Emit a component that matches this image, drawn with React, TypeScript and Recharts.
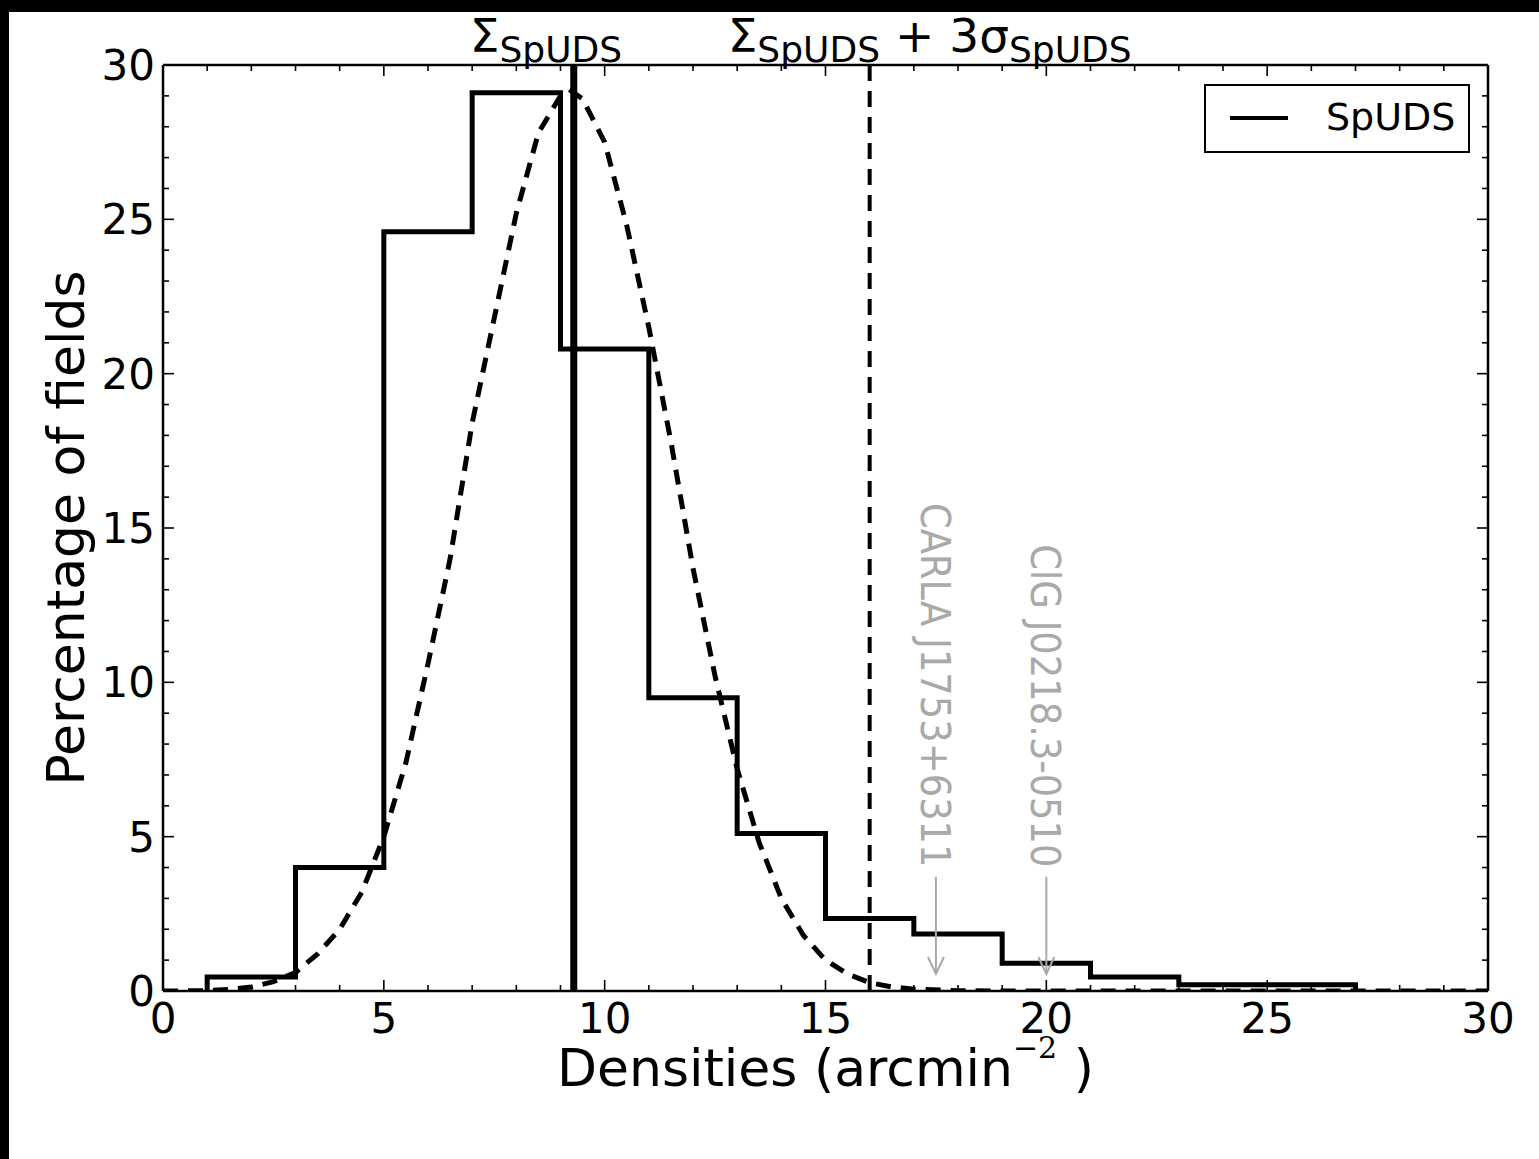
import React from 'react';
import { ComposedChart, Line, XAxis, YAxis, ReferenceLine, ReferenceDot, Legend } from 'recharts';

// histogram of field densities (bins of 2 arcmin^-2)
const binEdges = [1, 3, 5, 7, 9, 11, 13, 15, 17, 19, 21, 23, 25, 27];
const binPercent = [0.45, 4.0, 24.6, 29.1, 20.8, 9.5, 5.1, 2.35, 1.85, 0.9, 0.45, 0.2, 0.2];

// gaussian fit
const fitX = [0, 1, 1.5, 2, 2.5, 3, 3.5, 4, 4.5, 5, 5.5, 6, 6.5, 7, 7.5, 8, 8.5, 9, 9.2, 9.5, 10, 10.5, 11, 11.5, 12, 12.5, 13, 13.5, 14, 14.5, 15, 15.5, 16, 16.5, 17, 18, 19, 20, 22, 25, 30];
const fitY = [0, 0.01, 0.05, 0.13, 0.3, 0.6, 1.2, 2.0, 3.2, 5.0, 7.4, 10.6, 14.0, 18.4, 21.8, 25.2, 27.8, 29.0, 29.2, 28.9, 27.5, 24.8, 21.5, 17.8, 13.7, 10.2, 7.2, 4.8, 3.0, 1.8, 1.0, 0.55, 0.27, 0.13, 0.06, 0.01, 0, 0, 0, 0, 0];

const meanDensity = 9.3;
const threeSigma = 16;

const xTicks = Array.from({ length: 31 }, (_, i) => i);
const yTicks = Array.from({ length: 31 }, (_, i) => i);

const annotations = [
  { name: 'CARLA J1753+6311', x: 17.5, textY: 4.0, tailY: 3.7, tipY: 0.55 },
  { name: 'ClG J0218.3-0510', x: 20, textY: 4.0, tailY: 3.7, tipY: 0.55 },
];

const histData = [
  { x: binEdges[0], y: 0 },
  ...binPercent.map((v, i) => ({ x: binEdges[i], y: v })),
  { x: binEdges[binEdges.length - 1], y: 0 },
];
const fitData = fitX.map((x, i) => ({ x, y: fitY[i] }));

const FONT = "'DejaVu Sans', sans-serif";
const GREY = '#a9a9a9';

const BottomTick = (p: any) => {
  const v = p.payload.value;
  const major = v % 5 === 0;
  return (
    <g>
      <line x1={p.x} y1={p.y} x2={p.x} y2={p.y - (major ? 11 : 6)} stroke="#000" strokeWidth={1.6} />
      {major && (
        <text x={p.x} y={p.y + 42} textAnchor="middle" fontSize={42} fontFamily={FONT} fill="#000">{v}</text>
      )}
    </g>
  );
};

const TopTick = (p: any) => {
  const major = p.payload.value % 5 === 0;
  return <line x1={p.x} y1={p.y} x2={p.x} y2={p.y + (major ? 11 : 6)} stroke="#000" strokeWidth={1.6} />;
};

const LeftTick = (p: any) => {
  const v = p.payload.value;
  const major = v % 5 === 0;
  return (
    <g>
      <line x1={p.x} y1={p.y} x2={p.x + (major ? 11 : 6)} y2={p.y} stroke="#000" strokeWidth={1.6} />
      {major && (
        <text x={p.x - 8} y={p.y + 15} textAnchor="end" fontSize={42} fontFamily={FONT} fill="#000">{v}</text>
      )}
    </g>
  );
};

const RightTick = (p: any) => {
  const major = p.payload.value % 5 === 0;
  return <line x1={p.x} y1={p.y} x2={p.x - (major ? 11 : 6)} y2={p.y} stroke="#000" strokeWidth={1.6} />;
};

const LegendBox = () => (
  <div style={{ boxSizing: 'border-box', width: 266, height: 69, border: '2.5px solid #000', background: '#fff', position: 'relative' }}>
    <div style={{ position: 'absolute', left: 24, top: 30, width: 58, height: 4, background: '#000' }} />
    <span style={{ position: 'absolute', left: 120, top: 8, fontSize: 38, fontFamily: FONT, color: '#000', lineHeight: '46px' }}>SpUDS</span>
  </div>
);

export default function App() {
  return (
    <div style={{ position: 'absolute', left: 0, top: 0, width: 1539, height: 1159, background: '#000' }}>
      <div style={{ position: 'absolute', left: 9, top: 12, width: 1530, height: 1147, background: '#fff' }} />
      <div style={{ position: 'absolute', left: 0, top: 0 }}>
        <ComposedChart width={1539} height={1159} margin={{ top: 35, right: 31, bottom: 138, left: 103 }}>
          <XAxis xAxisId="b" type="number" dataKey="x" domain={[0, 30]} ticks={xTicks} interval={0}
            height={30} tickSize={0} tickMargin={0} tickLine={false} tick={BottomTick}
            axisLine={{ stroke: '#000', strokeWidth: 2.5 }} allowDataOverflow
            label={(lp: any) => {
              const vb = lp.viewBox;
              return (
                <text x={vb.x + vb.width / 2} y={1086} textAnchor="middle" fontSize={52} fontFamily={FONT} fill="#000">
                  Densities (arcmin
                  <tspan fontFamily="'DejaVu Serif', serif" fontSize={30} dy={-28}>−2</tspan>
                  <tspan dy={28}> )</tspan>
                </text>
              );
            }} />
          <XAxis xAxisId="t" orientation="top" type="number" dataKey="x" domain={[0, 30]} ticks={xTicks} interval={0}
            height={30} tickSize={0} tickMargin={0} tickLine={false} tick={TopTick}
            axisLine={{ stroke: '#000', strokeWidth: 2.5 }} allowDataOverflow />
          <YAxis yAxisId="l" type="number" domain={[0, 30]} ticks={yTicks} interval={0}
            width={60} tickSize={0} tickMargin={0} tickLine={false} tick={LeftTick}
            axisLine={{ stroke: '#000', strokeWidth: 2.5 }} allowDataOverflow
            label={(lp: any) => {
              const vb = lp.viewBox;
              const cy = vb.y + vb.height / 2;
              return (
                <text x={84} y={cy} transform={`rotate(-90 84 ${cy})`} textAnchor="middle" fontSize={52} fontFamily={FONT} fill="#000">
                  Percentage of fields
                </text>
              );
            }} />
          <YAxis yAxisId="r" orientation="right" type="number" domain={[0, 30]} ticks={yTicks} interval={0}
            width={20} tickSize={0} tickMargin={0} tickLine={false} tick={RightTick}
            axisLine={{ stroke: '#000', strokeWidth: 2.5 }} allowDataOverflow />

          <Legend verticalAlign="middle" align="center" layout="horizontal"
            wrapperStyle={{ position: 'absolute', left: 1204, top: 84, width: 266, height: 69 }}
            content={() => <LegendBox />} />

          <Line xAxisId="b" yAxisId="l" data={fitData} dataKey="y" type="linear" stroke="#000" strokeWidth={5}
            strokeDasharray="15 10" dot={false} isAnimationActive={false} legendType="none" />
          <Line xAxisId="b" yAxisId="l" data={histData} dataKey="y" name="SpUDS" type="stepAfter" stroke="#000" strokeWidth={5}
            dot={false} isAnimationActive={false} />

          <ReferenceLine xAxisId="b" yAxisId="l" x={meanDensity} stroke="#000" strokeWidth={7}
            label={(lp: any) => (
              <text x={lp.viewBox.x - 104} y={52} fontSize={47} fontFamily={FONT} fill="#000">
                Σ<tspan fontSize={36} dy={10}>SpUDS</tspan>
              </text>
            )} />
          <ReferenceLine xAxisId="b" yAxisId="l" x={threeSigma} stroke="#000" strokeWidth={4} strokeDasharray="16 10"
            label={(lp: any) => (
              <text x={lp.viewBox.x - 142} y={52} fontSize={47} fontFamily={FONT} fill="#000">
                Σ<tspan fontSize={36} dy={10}>SpUDS</tspan>
                <tspan dy={-10}> + 3σ</tspan>
                <tspan fontSize={36} dy={10}>SpUDS</tspan>
              </text>
            )} />

          {annotations.map((a) => (
            <ReferenceLine key={a.name + 'shaft'} xAxisId="b" yAxisId="l"
              segment={[{ x: a.x, y: a.tailY }, { x: a.x, y: a.tipY }]} stroke={GREY} strokeWidth={2} />
          ))}
          {annotations.map((a) => (
            <ReferenceDot key={a.name + 'tip'} xAxisId="b" yAxisId="l" x={a.x} y={a.tipY}
              shape={(sp: any) => (
                <polyline points={`${sp.cx - 8},${sp.cy - 17} ${sp.cx},${sp.cy} ${sp.cx + 8},${sp.cy - 17}`}
                  fill="none" stroke={GREY} strokeWidth={2} />
              )} />
          ))}
          {annotations.map((a) => (
            <ReferenceDot key={a.name + 'text'} xAxisId="b" yAxisId="l" x={a.x} y={a.textY}
              shape={(sp: any) => (
                <text x={sp.cx} y={sp.cy} dy={15} transform={`rotate(90 ${sp.cx} ${sp.cy})`} textAnchor="end"
                  fontSize={41} fontFamily="'DejaVu Sans Condensed', 'DejaVu Sans', sans-serif" fontStretch="condensed" fill={GREY}>
                  {a.name}
                </text>
              )} />
          ))}
        </ComposedChart>
      </div>
    </div>
  );
}
